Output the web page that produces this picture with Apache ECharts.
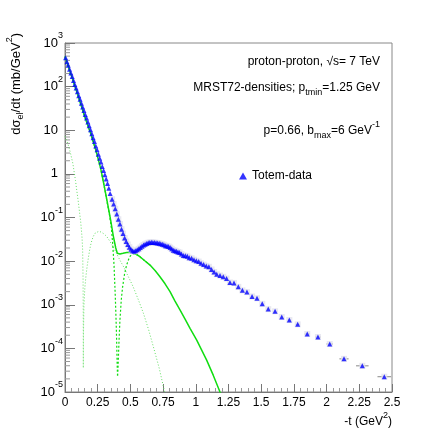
<!DOCTYPE html>
<html>
<head>
<meta charset="utf-8">
<script src="https://cdn.jsdelivr.net/npm/echarts@6/dist/echarts.min.js"></script>
<style>
html, body { margin: 0; padding: 0; background: #fff; }
#chart { width: 436px; height: 436px; }
</style>
</head>
<body>
<div id="chart"></div>
<script>
var FONT = 'Liberation Sans, Arial, sans-serif';

// Totem data: -t (GeV^2), dsigma_el/dt (mb/GeV^2)
var totemT = [0.005, 0.015, 0.025, 0.035, 0.045, 0.055, 0.065, 0.075, 0.085, 0.095,
    0.105, 0.115, 0.125, 0.135, 0.145, 0.155, 0.165, 0.175, 0.185, 0.195,
    0.205, 0.215, 0.225, 0.235, 0.245, 0.255, 0.265, 0.275, 0.285, 0.295,
    0.305, 0.315, 0.325, 0.335, 0.345,
    0.36, 0.372, 0.384, 0.396, 0.408, 0.42, 0.432, 0.444, 0.456, 0.468,
    0.48, 0.492, 0.504, 0.516, 0.528, 0.54, 0.552, 0.564, 0.576, 0.588,
    0.6, 0.612, 0.624, 0.636, 0.648, 0.66, 0.672, 0.684, 0.696, 0.708,
    0.72, 0.732, 0.744, 0.756, 0.768, 0.78, 0.792, 0.804, 0.816, 0.828,
    0.84, 0.852, 0.864, 0.876,
    0.89, 0.905, 0.92, 0.935, 0.95,
    0.968, 0.986, 1.004, 1.022, 1.04,
    1.06, 1.08, 1.1, 1.12, 1.14, 1.16,
    1.185, 1.21, 1.235,
    1.261, 1.292, 1.325, 1.356, 1.391, 1.43, 1.468, 1.508, 1.554, 1.606,
    1.657, 1.715, 1.779, 1.852, 1.934, 2.024, 2.133, 2.273, 2.441];
var totemY = [457, 372, 309, 251, 204, 170, 138, 112, 93.3, 75.9,
    61.7, 51.3, 41.7, 33.9, 28.2, 22.9, 19.1, 15.5, 12.6, 10.2,
    8.32, 6.76, 5.50, 4.37, 3.55, 2.82, 2.29, 1.86, 1.48, 1.20,
    0.955, 0.759, 0.603, 0.468, 0.355,
    0.263, 0.204, 0.158, 0.120, 0.0912, 0.0708, 0.0537, 0.0427, 0.0339, 0.0282,
    0.0240, 0.0209, 0.0186, 0.0174, 0.0168, 0.0172, 0.0182, 0.0191, 0.0204, 0.0219,
    0.0234, 0.0245, 0.0254, 0.0263, 0.0269, 0.0272, 0.0269, 0.0266, 0.0263, 0.0260,
    0.0257, 0.0251, 0.0245, 0.0237, 0.0226, 0.0221, 0.0216, 0.0204, 0.0191, 0.0178,
    0.0174, 0.0168, 0.0162, 0.0158,
    0.0145, 0.0135, 0.0132, 0.0129, 0.0120,
    0.0116, 0.0108, 0.0102, 0.00977, 0.00891,
    0.00832, 0.00776, 0.00741, 0.00646, 0.00562, 0.00501,
    0.00468, 0.00437, 0.00398,
    0.00324, 0.00316, 0.00257, 0.00214, 0.00195, 0.00155, 0.00141, 0.00105, 0.000794, 0.000708,
    0.000525, 0.000447, 0.000355, 0.000214, 0.000182, 0.000126, 0.0000575, 0.0000398, 0.0000224];

// first point of the dip-region set (error boxes are drawn from here on)
var boxFrom = 35;

// bin half widths drawn on the tail points
var tailT = [1.715, 1.779, 1.852, 1.934, 2.024, 2.133, 2.273, 2.441];
var tailY = [0.000447, 0.000355, 0.000214, 0.000182, 0.000126, 0.0000575, 0.0000398, 0.0000224];
var tailHalf = [0.012, 0.015, 0.02, 0.022, 0.025, 0.035, 0.048, 0.052];

// model, full (solid)
var totalT = [0, 0.05, 0.10, 0.15, 0.196, 0.235, 0.273, 0.298, 0.323, 0.349,
    0.369, 0.388, 0.40, 0.42, 0.443, 0.472, 0.497, 0.522, 0.548, 0.573,
    0.61, 0.65, 0.69, 0.726, 0.765, 0.803, 0.84, 0.879, 0.918, 0.956,
    1.007, 1.045, 1.083, 1.134, 1.185, 1.2];
var totalY = [490, 174, 61.7, 20.9, 8.51, 3.55, 1.32, 0.562, 0.229, 0.0871,
    0.0380, 0.0200, 0.0151, 0.0146, 0.0151, 0.0158, 0.0159, 0.0155, 0.0141, 0.0126,
    0.0102, 0.00813, 0.00603, 0.00437, 0.00302, 0.00200, 0.00123, 0.000759, 0.000468, 0.000288,
    0.000155, 0.0000912, 0.0000537, 0.0000240, 0.0000100, 0.0000079];

// model, light dotted term
var dotAT = [0, 0.02, 0.04, 0.06, 0.08, 0.09, 0.10, 0.11, 0.12, 0.13,
    0.135, 0.138, 0.1395, 0.140, 0.1415, 0.145, 0.152, 0.16, 0.17, 0.18,
    0.19, 0.20, 0.215, 0.23, 0.245, 0.26, 0.28, 0.30, 0.32, 0.34,
    0.36, 0.38, 0.40, 0.42, 0.45, 0.48, 0.52, 0.56, 0.60, 0.64,
    0.68, 0.72, 0.76, 0.77];
var dotAY = [7.24, 5.13, 3.16, 1.74, 0.708, 0.417, 0.251, 0.141, 0.0794, 0.0355,
    0.0178, 0.00398, 0.000501, 0.0000355, 0.000251, 0.001, 0.00251, 0.00447, 0.00794, 0.0126,
    0.0191, 0.0263, 0.0363, 0.0437, 0.0479, 0.0484, 0.0457, 0.0417, 0.0363, 0.0295,
    0.0234, 0.0182, 0.0138, 0.0105, 0.00724, 0.00468, 0.00263, 0.00132, 0.000631, 0.000263,
    0.0000977, 0.0000355, 0.0000105, 0.0000071];

// model, bright dotted term
var dotBT = [0, 0.05, 0.10, 0.15, 0.196, 0.235, 0.273, 0.298, 0.32, 0.34,
    0.355, 0.365, 0.375, 0.385, 0.393, 0.399, 0.402, 0.406, 0.412, 0.42,
    0.43, 0.44, 0.455, 0.47, 0.485, 0.50, 0.52, 0.548, 0.573, 0.61, 0.65];
var dotBY = [490, 174, 61.7, 20.9, 8.51, 3.55, 1.32, 0.562, 0.240, 0.115,
    0.0562, 0.0240, 0.00794, 0.00141, 0.000251, 0.0000398, 0.0000224, 0.0000398, 0.000126, 0.000447,
    0.00126, 0.00251, 0.00501, 0.00794, 0.0107, 0.0132, 0.0148, 0.0141, 0.0126, 0.0102, 0.00813];

var xMin = 0, xMax = 2.5, xStep = 0.25;
var yMin = 1e-5, yMax = 1e3;

function pairs(xs, ys) {
    return xs.map(function (x, i) { return [x, ys[i]]; });
}

// log minor ticks 2..9 per decade
var minorVals = [];
for (var k = -5; k < 3; k++) {
    for (var m = 2; m <= 9; m++) minorVals.push([0, m * Math.pow(10, k)]);
}

var supStyle = { fontSize: 9, lineHeight: 10, fontFamily: FONT, color: '#000', padding: [0, 0, 12, 0] };
var subStyle = { fontSize: 9, lineHeight: 10, fontFamily: FONT, color: '#000', padding: [9, 0, 0, 0] };
var baseStyle = { fontSize: 12, lineHeight: 14, fontFamily: FONT, color: '#000' };
var richText = { b: baseStyle, sup: supStyle, sub: subStyle };
var richTitle = {
    b: { fontSize: 13, lineHeight: 15, fontFamily: FONT, color: '#000' },
    sup: { fontSize: 9, lineHeight: 10, fontFamily: FONT, color: '#000', padding: [0, 0, 12, 0] },
    sub: { fontSize: 9, lineHeight: 10, fontFamily: FONT, color: '#000', padding: [9, 0, 0, 0] }
};

var chart = echarts.init(document.getElementById('chart'), null, { renderer: 'canvas' });

var option = {
    backgroundColor: '#fff',
    animation: false,
    textStyle: { fontFamily: FONT },
    grid: { left: 65, right: 44, top: 43, bottom: 44, show: true, borderColor: '#888', borderWidth: 1 },
    xAxis: {
        type: 'value', min: xMin, max: xMax, interval: xStep,
        axisLine: { lineStyle: { color: '#777' } },
        axisTick: { inside: true, length: 8, lineStyle: { color: '#777' } },
        minorTick: { show: true, splitNumber: 5, length: 4, lineStyle: { color: '#999' } },
        splitLine: { show: false },
        axisLabel: { margin: 5, fontSize: 12, color: '#000', fontFamily: FONT }
    },
    yAxis: {
        type: 'log', logBase: 10, min: yMin, max: yMax, splitNumber: 8,
        axisLine: { lineStyle: { color: '#777' } },
        axisTick: { inside: true, length: 10, lineStyle: { color: '#777' } },
        splitLine: { show: false },
        axisLabel: {
            margin: 2, fontSize: 12, color: '#000', fontFamily: FONT,
            formatter: function (v) {
                var e = Math.round(Math.log(v) / Math.LN10);
                if (e === 0) return '{b|1}{p| }';
                if (e === 1) return '{b|10}{p| }';
                return '{b|10}{e|' + e + '}';
            },
            rich: {
                b: { fontSize: 13, lineHeight: 15, fontFamily: FONT, color: '#000' },
                e: { fontSize: 9, lineHeight: 10, fontFamily: FONT, color: '#000', padding: [0, 0, 14, 0] },
                p: { width: 5, fontSize: 9 }
            }
        }
    },
    legend: {
        left: 239, top: 170, padding: 0, itemWidth: 8, itemHeight: 7, itemGap: 5,
        textStyle: { fontSize: 12, color: '#000', fontFamily: FONT },
        data: [{ name: 'Totem-data', icon: 'triangle', itemStyle: { color: '#0000ff' } }]
    },
    graphic: [
        { type: 'text', x: 380, y: 62, style: { text: 'proton-proton, \u221as= 7 TeV', align: 'right', verticalAlign: 'middle', font: '12px ' + FONT, fill: '#000' } },
        { type: 'text', x: 380, y: 88, style: { text: '{b|MRST72-densities; p}{sub|tmin}{b|=1.25 GeV}', align: 'right', verticalAlign: 'middle', rich: richText } },
        { type: 'text', x: 380, y: 131, style: { text: '{b|p=0.66, b}{sub|max}{b|=6 GeV}{sup|-1}', align: 'right', verticalAlign: 'middle', rich: richText } },
        { type: 'text', x: 392, y: 422, style: { text: '{b|-t (GeV}{sup|2}{b|)}', align: 'right', verticalAlign: 'middle', rich: richText } },
        { type: 'text', x: 16, y: 33, rotation: Math.PI / 2, style: { text: '{b|d\u03c3}{sub|el}{b|/dt (mb/GeV}{sup|2}{b|)}', align: 'right', verticalAlign: 'middle', rich: richTitle } }
    ],
    series: [
        {
            type: 'custom', name: 'minor', silent: true, clip: false, z: 1,
            data: minorVals,
            renderItem: function (params, api) {
                var p = api.coord([0, api.value(1)]);
                return { type: 'line', shape: { x1: p[0], y1: p[1], x2: p[0] + 5, y2: p[1] }, style: { stroke: '#999', lineWidth: 1 } };
            }
        },
        {
            type: 'line', name: 'termA', data: pairs(dotAT, dotAY), showSymbol: false, z: 2,
            lineStyle: { color: '#66dd66', width: 1, type: [1, 2] }
        },
        {
            type: 'line', name: 'termB', data: pairs(dotBT, dotBY), showSymbol: false, z: 2,
            lineStyle: { color: '#11dd11', width: 1.2, type: [2, 2] }
        },
        {
            type: 'line', name: 'total', data: pairs(totalT, totalY), showSymbol: false, z: 3,
            lineStyle: { color: '#11dd11', width: 1.5 }
        },
        {
            type: 'custom', name: 'bins', silent: true, z: 4,
            data: tailT.map(function (t, i) { return [t, tailY[i], tailHalf[i]]; }),
            renderItem: function (params, api) {
                var t = api.value(0), v = api.value(1), h = api.value(2);
                var a = api.coord([t - h, v]), b = api.coord([t + h, v]);
                return { type: 'line', shape: { x1: a[0], y1: a[1], x2: b[0], y2: b[1] }, style: { stroke: '#888', lineWidth: 1 } };
            }
        },
        {
            type: 'scatter', name: 'boxes', data: pairs(totemT, totemY).slice(boxFrom), symbol: 'rect', symbolSize: 6, z: 4,
            itemStyle: { color: '#e2e2ee' }, silent: true
        },
        {
            type: 'scatter', name: 'Totem-data', data: pairs(totemT, totemY), symbol: 'triangle', symbolSize: 5, z: 5,
            itemStyle: { color: '#0000ff' }
        }
    ]
};

chart.setOption(option);
</script>
</body>
</html>
